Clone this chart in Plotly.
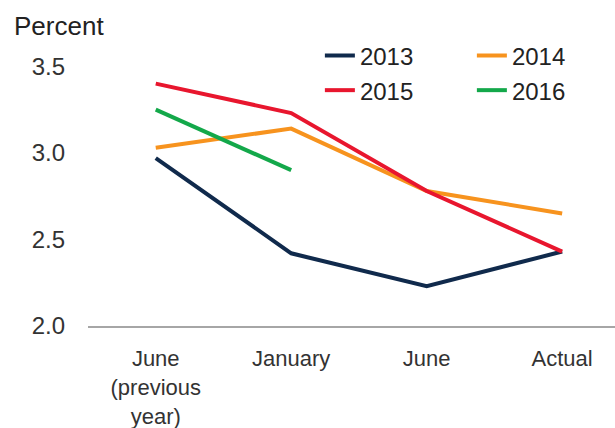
import plotly.graph_objects as go

categories = ["June<br>(previous<br>year)", "January", "June", "Actual"]
series_names = ["2013", "2014", "2015", "2016"]
values_2013 = [2.97, 2.42, 2.23, 2.43]
values_2014 = [3.03, 3.14, 2.78, 2.65]
values_2015 = [3.40, 3.23, 2.78, 2.43]
values_2016 = [3.25, 2.90, None, None]
y_tick_vals = [2.0, 2.5, 3.0, 3.5]
y_tick_text = ["2.0", "2.5", "3.0", "3.5"]

colors = {"2013": "#102A4C", "2014": "#F7931E", "2015": "#E8162E", "2016": "#13A84A"}
legend_of = {"2013": "legend", "2014": "legend", "2015": "legend2", "2016": "legend2"}
FONT = "Arial, 'Liberation Sans', sans-serif"

x_idx = list(range(len(categories)))
fig = go.Figure()
for name, vals in zip(series_names, [values_2013, values_2014, values_2015, values_2016]):
    fig.add_trace(go.Scatter(
        x=x_idx, y=vals, mode="lines", name=name,
        line=dict(color=colors[name], width=4),
        legend=legend_of[name],
        hoverinfo="skip",
    ))

legend_common = dict(
    orientation="h", xanchor="left", yanchor="middle",
    font=dict(family=FONT, size=24, color="#222222"),
    bgcolor="rgba(0,0,0,0)", itemwidth=30,
    entrywidth=107, entrywidthmode="pixels",
    tracegroupgap=0,
)

fig.update_layout(
    width=615, height=428,
    margin=dict(l=88, r=0, t=49, b=102, autoexpand=False),
    paper_bgcolor="white", plot_bgcolor="white",
    font=dict(family=FONT, size=24, color="#333333"),
    showlegend=True,
    legend=dict(x=0.44, y=0.975, **legend_common),
    legend2=dict(x=0.44, y=0.85, **legend_common),
    xaxis=dict(
        range=[-0.5, 3.39], tickmode="array", tickvals=x_idx, ticktext=categories,
        showgrid=False, zeroline=False, showline=True, linecolor="#A6A6A6", linewidth=2,
        ticks="", ticklabelstandoff=12, tickfont=dict(size=22, color="#333333"),
        fixedrange=True, automargin=False,
    ),
    yaxis=dict(
        range=[2.0, 3.6], tickmode="array", tickvals=y_tick_vals, ticktext=y_tick_text,
        showgrid=False, zeroline=False, showline=False, ticks="",
        ticklabelstandoff=22, tickfont=dict(size=24, color="#333333"),
        fixedrange=True, automargin=False,
    ),
    annotations=[dict(
        text="Percent", xref="paper", yref="paper", x=-88/527, y=(326-26)/277,
        xanchor="left", yanchor="middle", showarrow=False,
        font=dict(family=FONT, size=26, color="#222222"), xshift=12,
    )],
)

fig.write_html(
    "out.html",
    config={"displayModeBar": False},
    post_script="document.body.style.margin='0';document.body.style.overflow='hidden';",
)
